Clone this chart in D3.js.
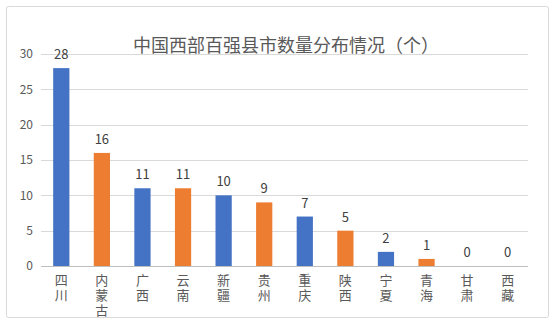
<!DOCTYPE html>
<html><head><meta charset="utf-8">
<script src="https://cdn.jsdelivr.net/npm/d3@7"></script>
<style>body{margin:0;background:#fff;}svg{display:block;}</style>
</head><body>
<svg id="c" width="556" height="321"></svg>
<script>
const categories = ["四川","内蒙古","广西","云南","新疆","贵州","重庆","陕西","宁夏","青海","甘肃","西藏"];
const values = [28,16,11,11,10,9,7,5,2,1,0,0];
const yTicks = [0,5,10,15,20,25,30];
const title = "中国西部百强县市数量分布情况（个）";
const colors = ["#4472C4","#ED7D31"];

const svg = d3.select("#c");
const font = "'Microsoft YaHei','Noto Sans CJK SC',sans-serif";
svg.append("rect").attr("x",6.5).attr("y",6.5).attr("width",542).attr("height",311)
  .attr("fill","#fff").attr("stroke","#d9d9d9").attr("rx",2);

const x = d3.scaleBand().domain(categories).range([41,528]).paddingInner(0.6).paddingOuter(0.3);
const y = d3.scaleLinear().domain([0,30]).range([266,54]);

const grid = svg.append("g");
grid.selectAll("line").data(yTicks).join("line")
  .attr("x1",41).attr("x2",528).attr("y1",d=>Math.round(y(d))+0.5).attr("y2",d=>Math.round(y(d))+0.5)
  .attr("stroke",d=>d===0?"#bfbfbf":"#d9d9d9").attr("stroke-width",1);

const yAxis = svg.append("g").attr("transform","translate(41,0)")
  .call(d3.axisLeft(y).tickValues(yTicks).tickSize(0).tickPadding(8));
yAxis.select(".domain").remove();
yAxis.selectAll("text").attr("font-size",12).attr("fill","#595959").attr("font-family",font);

svg.append("g").selectAll("rect").data(values).join("rect")
  .attr("x",(d,i)=>x(categories[i])).attr("width",x.bandwidth())
  .attr("y",d=>y(d)).attr("height",d=>y(0)-y(d))
  .attr("fill",(d,i)=>colors[i%2]);

svg.append("g").selectAll("text").data(values).join("text")
  .attr("x",(d,i)=>x(categories[i])+x.bandwidth()/2).attr("y",d=>y(d)-9)
  .attr("text-anchor","middle").attr("font-size",13).attr("fill","#404040").attr("font-family",font)
  .text(d=>d);

const xl = svg.append("g");
categories.forEach(c=>{
  const t = xl.append("text").attr("text-anchor","middle").attr("font-size",13)
    .attr("fill","#595959").attr("font-family",font);
  Array.from(c).forEach((ch,j)=>{
    t.append("tspan").attr("x",x(c)+x.bandwidth()/2).attr("y",285+j*15).text(ch);
  });
});

svg.append("text").attr("x",286).attr("y",52).attr("text-anchor","middle")
  .attr("font-size",18).attr("fill","#595959").attr("font-family",font).text(title);
</script>
</body></html>
